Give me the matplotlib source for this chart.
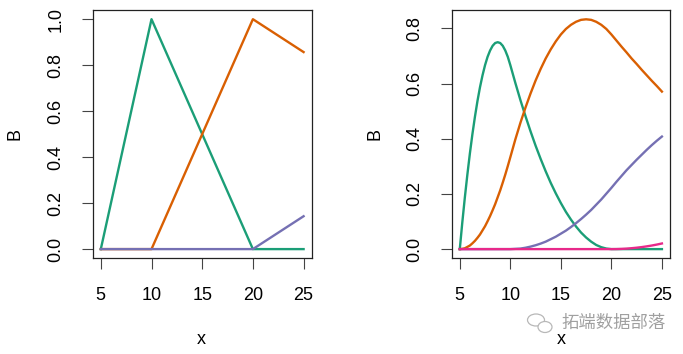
import matplotlib
matplotlib.use("Agg")
import matplotlib.pyplot as plt
from matplotlib.patches import Ellipse

plt.rcParams["font.family"] = ["Liberation Sans", "DejaVu Sans"]

# Dark2 palette, as used by matplot in R
colours = ["#1B9E77", "#D95F02", "#7570B3", "#E7298A"]

# left panel: linear B-spline basis
x_lin = [5, 10, 20, 25]
lin_green = [0.0, 1.0, 0.0, 0.0]
lin_orange = [0.0, 0.0, 1.0, 0.857]
lin_purple = [0.0, 0.0, 0.0, 0.143]

# right panel: quadratic B-spline basis, read every 0.25 up to 10, then every 0.5
x_quad = [5, 5.25, 5.5, 5.75, 6, 6.25, 6.5, 6.75, 7, 7.25, 7.5, 7.75, 8, 8.25, 8.5, 8.75,
          9, 9.25, 9.5, 9.75, 10,
          10.5, 11, 11.5, 12, 12.5, 13, 13.5, 14, 14.5, 15, 15.5, 16, 16.5, 17, 17.5,
          18, 18.5, 19, 19.5, 20, 20.5, 21, 21.5, 22, 22.5, 23, 23.5, 24, 24.5, 25]
quad_green = [0.0, 0.097, 0.187, 0.27, 0.347, 0.417, 0.48, 0.537, 0.587, 0.63, 0.667,
              0.697, 0.72, 0.737, 0.747, 0.75, 0.747, 0.737, 0.72, 0.697, 0.667,
              0.602, 0.54, 0.482, 0.427, 0.375, 0.327, 0.282, 0.24, 0.202, 0.167,
              0.135, 0.107, 0.082, 0.06, 0.042, 0.027, 0.015, 0.007, 0.002, 0.0,
              0.0, 0.0, 0.0, 0.0, 0.0, 0.0, 0.0, 0.0, 0.0, 0.0]
quad_orange = [0.0, 0.001, 0.003, 0.008, 0.013, 0.021, 0.03, 0.041, 0.053, 0.068, 0.083,
               0.101, 0.12, 0.141, 0.163, 0.188, 0.213, 0.241, 0.27, 0.301, 0.333,
               0.398, 0.458, 0.513, 0.564, 0.611, 0.653, 0.691, 0.724, 0.753, 0.778,
               0.798, 0.813, 0.824, 0.831, 0.833, 0.831, 0.824, 0.813, 0.798, 0.778,
               0.756, 0.734, 0.713, 0.691, 0.671, 0.65, 0.63, 0.61, 0.591, 0.571]
quad_purple = [0.0] * 21 + [0.001, 0.002, 0.005, 0.009, 0.014, 0.02, 0.027, 0.036, 0.045,
                            0.056, 0.067, 0.08, 0.094, 0.109, 0.125, 0.142, 0.161, 0.18,
                            0.201, 0.222, 0.244, 0.265, 0.286, 0.305, 0.324, 0.342, 0.36,
                            0.377, 0.393, 0.408]
quad_pink = [0.0] * 41 + [0.0002, 0.0008, 0.0018, 0.0033, 0.0051, 0.0073, 0.01,
                          0.013, 0.0165, 0.0204]

x_ticks = [5, 10, 15, 20, 25]

W, H = 683, 354
fig = plt.figure(figsize=(W / 100, H / 100), dpi=100)


def px_axes(left, right, top, bottom):
    return fig.add_axes([left / W, 1 - bottom / H, (right - left) / W, (bottom - top) / H])


def style(ax, yticks, ylim):
    ax.set_xlim(4.2, 25.8)
    ax.set_ylim(*ylim)
    ax.set_xticks(x_ticks)
    ax.set_xticklabels([str(t) for t in x_ticks])
    ax.set_yticks(yticks)
    ax.set_yticklabels([f"{t:.1f}" for t in yticks], rotation=90, va="center")
    ax.tick_params(direction="out", length=8, width=0.8, labelsize=13, pad=12.5,
                   colors="black")
    ax.tick_params(color="#444444")
    for s in ax.spines.values():
        s.set_linewidth(0.9)
        s.set_color("#222222")


ax1 = px_axes(92.7, 311.7, 10, 258.3)
for ys, c in zip([lin_green, lin_orange, lin_purple], colours):
    ax1.plot(x_lin, ys, color=c, linewidth=1.7)
style(ax1, [0.0, 0.2, 0.4, 0.6, 0.8, 1.0], (-0.04, 1.04))

ax2 = px_axes(451.7, 670, 10, 258.3)
for ys, c in zip([quad_green, quad_orange, quad_purple, quad_pink], colours):
    ax2.plot(x_quad, ys, color=c, linewidth=1.7)
style(ax2, [0.0, 0.2, 0.4, 0.6, 0.8], (-0.0333, 0.8667))

# axis titles
fig.text(15 / W, 1 - 134 / H, "B", rotation=90, ha="center", va="center", fontsize=13)
fig.text(375 / W, 1 - 134 / H, "B", rotation=90, ha="center", va="center", fontsize=13)
fig.text(201.7 / W, 1 - 340 / H, "x", ha="center", va="center", fontsize=13)
fig.text(561 / W, 1 - 340 / H, "x", ha="center", va="center", fontsize=13)

# watermark
fig.text(561 / W, 1 - 323 / H, "拓端数据部落", ha="left", va="center", fontsize=12.5,
         color="#a0a0a0", family=["Noto Sans CJK SC", "DejaVu Sans"])
fig.patches.append(Ellipse((536 / W, 1 - 320 / H), 17 / W, 12 / H, transform=fig.transFigure,
                           fill=False, edgecolor="#b8b8b8", linewidth=0.9))
fig.patches.append(Ellipse((545 / W, 1 - 327 / H), 14 / W, 11 / H, transform=fig.transFigure,
                           facecolor="white", edgecolor="#b8b8b8", linewidth=0.9))

fig.savefig("out.png", dpi=100)
